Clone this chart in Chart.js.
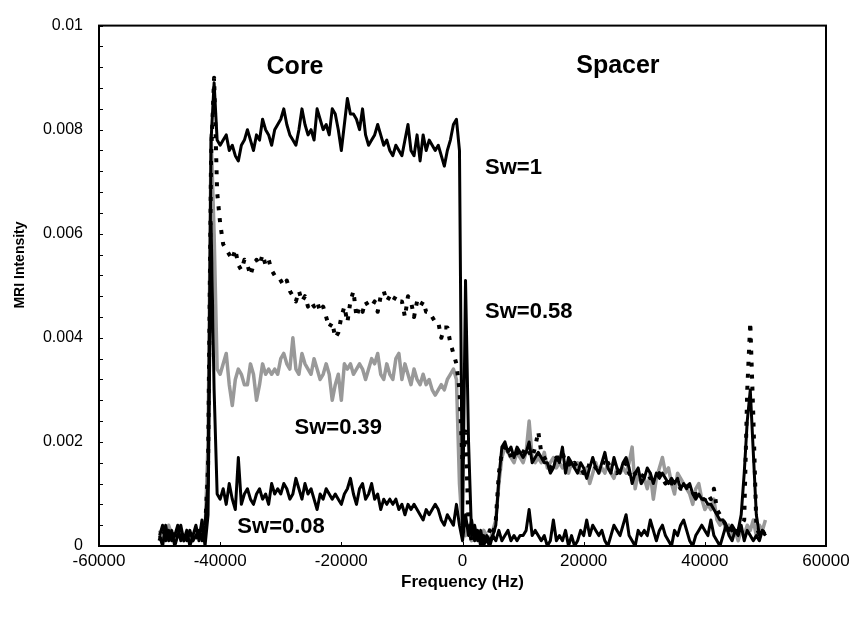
<!DOCTYPE html>
<html>
<head>
<meta charset="utf-8">
<script src="https://cdn.jsdelivr.net/npm/chart.js@4.4.0/dist/chart.umd.min.js"></script>
<style>
  html, body { margin: 0; padding: 0; background: #fff; }
  #wrap { width: 863px; height: 618px; }
</style>
</head>
<body>
<div id="wrap"><canvas id="chart" width="863" height="618"></canvas></div>
<script>
const FONT = '"Liberation Sans", Arial, sans-serif';

// frequency grid of the spectra (Hz)
const freq = [
  -50000, -49500, -49000, -48500, -48000, -47500, -47000, -46500, -46000, -45500, -45000, -44500, -44000, -43500, -43000, -42500, -42000, -41500, -41000, -40500,
  -40000, -39500, -39000, -38500, -38000, -37500, -37000, -36500, -36000, -35500, -35000, -34500, -34000, -33500, -33000, -32500, -32000, -31500, -31000, -30500,
  -30000, -29500, -29000, -28500, -28000, -27500, -27000, -26500, -26000, -25500, -25000, -24500, -24000, -23500, -23000, -22500, -22000, -21500, -21000, -20500,
  -20000, -19500, -19000, -18500, -18000, -17500, -17000, -16500, -16000, -15500, -15000, -14500, -14000, -13500, -13000, -12500, -12000, -11500, -11000, -10500,
  -10000, -9500, -9000, -8500, -8000, -7500, -7000, -6500, -6000, -5500, -5000, -4500, -4000, -3500, -3000, -2500, -2000, -1500, -1000, -500,
  0, 500, 1000, 1500, 2000, 2500, 3000, 3500, 4000, 4500, 5000, 5500, 6000, 6500, 7000, 7500, 8000, 8500, 9000, 9500,
  10000, 10500, 11000, 11500, 12000, 12500, 13000, 13500, 14000, 14500, 15000, 15500, 16000, 16500, 17000, 17500, 18000, 18500, 19000, 19500,
  20000, 20500, 21000, 21500, 22000, 22500, 23000, 23500, 24000, 24500, 25000, 25500, 26000, 26500, 27000, 27500, 28000, 28500, 29000, 29500,
  30000, 30500, 31000, 31500, 32000, 32500, 33000, 33500, 34000, 34500, 35000, 35500, 36000, 36500, 37000, 37500, 38000, 38500, 39000, 39500,
  40000, 40500, 41000, 41500, 42000, 42500, 43000, 43500, 44000, 44500, 45000, 45500, 46000, 46500, 47000, 47500, 48000, 48500, 49000, 49500,
  50000,
];

// Sw=1
const sw100 = [
  0.0002, 0.0004, 0.0001, 0.0003, 0.0001, 0.0002, 0.0004, 0.0001, 0.0002, 0.0001, 0.0003, 0.0001, 0.0002, 0.0003, 0.0001, 0.0004, 0.0012, 0.0078, 0.0089, 0.0078,
  0.0077, 0.0078, 0.0079, 0.0076, 0.0077, 0.0075, 0.0074, 0.0077, 0.0078, 0.0080, 0.0078, 0.0076, 0.0079, 0.0078, 0.0082, 0.0080, 0.0079, 0.0077, 0.0080, 0.0081,
  0.0082, 0.0084, 0.0081, 0.0079, 0.0078, 0.0077, 0.0080, 0.0084, 0.0081, 0.0079, 0.0080, 0.0078, 0.0084, 0.0082, 0.0080, 0.0081, 0.0079, 0.0084, 0.0083, 0.0080,
  0.0076, 0.0081, 0.0086, 0.0083, 0.0083, 0.0082, 0.0080, 0.0084, 0.0079, 0.0077, 0.0078, 0.0079, 0.0081, 0.0079, 0.0077, 0.0078, 0.0076, 0.0075, 0.0077, 0.0076,
  0.0075, 0.0078, 0.0081, 0.0076, 0.0075, 0.0079, 0.0074, 0.0079, 0.0076, 0.0078, 0.0077, 0.0076, 0.0077, 0.0075, 0.0073, 0.0076, 0.0078, 0.0081, 0.0082, 0.0076,
  0.0003, 0.0051, 0.0020, 0.0002, 0.0004, 0.0001, 0.0003, 0.0000, 0.0002, 0.0001, 0.0002, 0.0004, 0.0013, 0.0019, 0.0020, 0.0018, 0.0019, 0.0017, 0.0019, 0.0018,
  0.0017, 0.0018, 0.0020, 0.0016, 0.0017, 0.0018, 0.0017, 0.0016, 0.0016, 0.0014, 0.0015, 0.0017, 0.0016, 0.0019, 0.0014, 0.0017, 0.0016, 0.0015, 0.0014, 0.0016,
  0.0015, 0.0013, 0.0015, 0.0017, 0.0015, 0.0014, 0.0016, 0.0018, 0.0015, 0.0014, 0.0017, 0.0015, 0.0014, 0.0016, 0.0017, 0.0015, 0.0012, 0.0014, 0.0015, 0.0012,
  0.0013, 0.0015, 0.0014, 0.0012, 0.0014, 0.0013, 0.0014, 0.0013, 0.0012, 0.0013, 0.0012, 0.0013, 0.0011, 0.0012, 0.0011, 0.0012, 0.0010, 0.0009, 0.0010, 0.0009,
  0.0009, 0.0008, 0.0008, 0.0007, 0.0006, 0.0005, 0.0005, 0.0004, 0.0003, 0.0004, 0.0003, 0.0003, 0.0006, 0.0014, 0.0024, 0.0030, 0.0018, 0.0006, 0.0002, 0.0003,
  0.0002,
];

// Sw=0.58
const sw058 = [
  0.0001, 0.0003, 0.0002, 0.0001, 0.0003, 0.0001, 0.0002, 0.0003, 0.0001, 0.0002, 0.0001, 0.0003, 0.0002, 0.0001, 0.0002, 0.0003, 0.0015, 0.0075, 0.0090, 0.0068,
  0.0062, 0.0058, 0.0057, 0.0056, 0.0055, 0.0057, 0.0054, 0.0053, 0.0055, 0.0054, 0.0052, 0.0054, 0.0055, 0.0054, 0.0056, 0.0054, 0.0055, 0.0053, 0.0052, 0.0052,
  0.0051, 0.0050, 0.0051, 0.0049, 0.0048, 0.0047, 0.0049, 0.0047, 0.0048, 0.0046, 0.0047, 0.0046, 0.0047, 0.0045, 0.0046, 0.0044, 0.0042, 0.0043, 0.0040, 0.0041,
  0.0044, 0.0046, 0.0043, 0.0047, 0.0049, 0.0044, 0.0046, 0.0045, 0.0047, 0.0046, 0.0046, 0.0047, 0.0045, 0.0048, 0.0049, 0.0047, 0.0048, 0.0047, 0.0048, 0.0047,
  0.0047, 0.0044, 0.0048, 0.0047, 0.0044, 0.0047, 0.0046, 0.0047, 0.0045, 0.0045, 0.0044, 0.0043, 0.0043, 0.0040, 0.0042, 0.0042, 0.0039, 0.0037, 0.0035, 0.0030,
  0.0016, 0.0022, 0.0004, 0.0001, 0.0003, 0.0002, 0.0001, 0.0002, 0.0001, 0.0003, 0.0002, 0.0005, 0.0014, 0.0018, 0.0019, 0.0019, 0.0017, 0.0018, 0.0018, 0.0017,
  0.0018, 0.0019, 0.0018, 0.0017, 0.0019, 0.0022, 0.0018, 0.0017, 0.0016, 0.0015, 0.0016, 0.0017, 0.0017, 0.0018, 0.0016, 0.0016, 0.0015, 0.0016, 0.0015, 0.0015,
  0.0014, 0.0014, 0.0016, 0.0016, 0.0015, 0.0015, 0.0015, 0.0017, 0.0016, 0.0015, 0.0016, 0.0014, 0.0015, 0.0015, 0.0016, 0.0014, 0.0013, 0.0014, 0.0014, 0.0013,
  0.0014, 0.0014, 0.0013, 0.0013, 0.0013, 0.0014, 0.0013, 0.0012, 0.0013, 0.0012, 0.0012, 0.0012, 0.0011, 0.0011, 0.0012, 0.0011, 0.0010, 0.0010, 0.0010, 0.0009,
  0.0009, 0.0010, 0.0009, 0.0011, 0.0007, 0.0006, 0.0005, 0.0004, 0.0004, 0.0003, 0.0004, 0.0003, 0.0004, 0.0005, 0.0030, 0.0043, 0.0025, 0.0004, 0.0002, 0.0003,
  0.0002,
];

// Sw=0.39
const sw039 = [
  0.0003, 0.0001, 0.0002, 0.0004, 0.0002, 0.0001, 0.0003, 0.0002, 0.0001, 0.0003, 0.0002, 0.0001, 0.0003, 0.0002, 0.0004, 0.0002, 0.0020, 0.0079, 0.0060, 0.0034,
  0.0033, 0.0035, 0.0037, 0.0031, 0.0027, 0.0032, 0.0034, 0.0033, 0.0031, 0.0031, 0.0035, 0.0033, 0.0028, 0.0031, 0.0035, 0.0033, 0.0034, 0.0033, 0.0034, 0.0033,
  0.0036, 0.0037, 0.0035, 0.0034, 0.0040, 0.0034, 0.0033, 0.0037, 0.0035, 0.0034, 0.0033, 0.0036, 0.0034, 0.0032, 0.0033, 0.0035, 0.0033, 0.0028, 0.0031, 0.0033,
  0.0028, 0.0035, 0.0034, 0.0035, 0.0033, 0.0034, 0.0035, 0.0034, 0.0032, 0.0034, 0.0036, 0.0035, 0.0037, 0.0033, 0.0032, 0.0035, 0.0033, 0.0032, 0.0036, 0.0037,
  0.0032, 0.0035, 0.0033, 0.0031, 0.0034, 0.0032, 0.0031, 0.0033, 0.0031, 0.0032, 0.0030, 0.0029, 0.0030, 0.0031, 0.0030, 0.0032, 0.0033, 0.0034, 0.0032, 0.0012,
  0.0003, 0.0002, 0.0004, 0.0001, 0.0003, 0.0002, 0.0001, 0.0003, 0.0002, 0.0001, 0.0003, 0.0005, 0.0012, 0.0017, 0.0019, 0.0018, 0.0017, 0.0016, 0.0018, 0.0017,
  0.0016, 0.0018, 0.0024, 0.0017, 0.0016, 0.0017, 0.0016, 0.0018, 0.0015, 0.0016, 0.0017, 0.0015, 0.0016, 0.0015, 0.0016, 0.0014, 0.0016, 0.0015, 0.0016, 0.0014,
  0.0014, 0.0015, 0.0012, 0.0014, 0.0016, 0.0014, 0.0015, 0.0014, 0.0016, 0.0014, 0.0013, 0.0015, 0.0014, 0.0015, 0.0014, 0.0016, 0.0019, 0.0011, 0.0014, 0.0012,
  0.0013, 0.0011, 0.0014, 0.0009, 0.0013, 0.0015, 0.0017, 0.0014, 0.0015, 0.0012, 0.0010, 0.0014, 0.0013, 0.0012, 0.0011, 0.0010, 0.0008, 0.0011, 0.0012, 0.0009,
  0.0007, 0.0008, 0.0007, 0.0009, 0.0005, 0.0004, 0.0005, 0.0003, 0.0004, 0.0002, 0.0003, 0.0001, 0.0003, 0.0002, 0.0004, 0.0003, 0.0005, 0.0002, 0.0004, 0.0003,
  0.0005,
];

// Sw=0.08
const sw008 = [
  0.0002, 0.0000, 0.0004, 0.0001, 0.0003, 0.0000, 0.0002, 0.0004, 0.0001, 0.0003, 0.0000, 0.0002, 0.0004, 0.0001, 0.0005, 0.0000, 0.0006, 0.0062, 0.0030, 0.0010,
  0.0009, 0.0011, 0.0008, 0.0012, 0.0009, 0.0007, 0.0017, 0.0008, 0.0010, 0.0011, 0.0009, 0.0008, 0.0010, 0.0011, 0.0009, 0.0010, 0.0008, 0.0012, 0.0010, 0.0011,
  0.0010, 0.0012, 0.0011, 0.0009, 0.0010, 0.0013, 0.0011, 0.0009, 0.0012, 0.0010, 0.0011, 0.0009, 0.0007, 0.0010, 0.0009, 0.0011, 0.0010, 0.0009, 0.0010, 0.0009,
  0.0008, 0.0010, 0.0011, 0.0013, 0.0010, 0.0008, 0.0011, 0.0012, 0.0009, 0.0010, 0.0012, 0.0009, 0.0010, 0.0007, 0.0009, 0.0008, 0.0009, 0.0008, 0.0009, 0.0007,
  0.0008, 0.0006, 0.0008, 0.0007, 0.0008, 0.0007, 0.0006, 0.0005, 0.0007, 0.0006, 0.0007, 0.0008, 0.0007, 0.0005, 0.0004, 0.0006, 0.0005, 0.0004, 0.0008, 0.0004,
  0.0001, 0.0006, 0.0002, 0.0005, 0.0001, 0.0003, 0.0000, 0.0002, 0.0001, 0.0000, 0.0002, 0.0001, 0.0003, 0.0001, 0.0002, 0.0003, 0.0001, 0.0002, 0.0001, 0.0002,
  0.0002, 0.0003, 0.0007, 0.0002, 0.0003, 0.0002, 0.0001, 0.0002, 0.0000, 0.0001, 0.0005, 0.0001, 0.0002, 0.0001, 0.0003, 0.0000, 0.0002, 0.0000, 0.0001, 0.0003,
  0.0002, 0.0005, 0.0002, 0.0004, 0.0003, 0.0002, 0.0003, 0.0001, 0.0000, 0.0002, 0.0004, 0.0003, 0.0002, 0.0004, 0.0006, 0.0002, 0.0001, 0.0000, 0.0003, 0.0002,
  0.0003, 0.0002, 0.0005, 0.0003, 0.0001, 0.0003, 0.0004, 0.0002, 0.0001, 0.0000, 0.0003, 0.0002, 0.0004, 0.0005, 0.0003, 0.0001, 0.0000, 0.0002, 0.0003, 0.0004,
  0.0003, 0.0002, 0.0005, 0.0002, 0.0001, 0.0000, 0.0002, 0.0004, 0.0002, 0.0001, 0.0003, 0.0002, 0.0004, 0.0001, 0.0003, 0.0002, 0.0001, 0.0002, 0.0001, 0.0003,
  0.0002,
];

const xTicks = [-60000, -40000, -20000, 0, 20000, 40000, 60000];
const yTicks = [0, 0.002, 0.004, 0.006, 0.008, 0.01];
const yMinorStep = 0.0004;

// text written on the plot, placed in data units
const notes = [
  { text: "Core", x: -27640, y: 0.00907, size: 25, align: "center" },
  { text: "Spacer", x: 25650, y: 0.00909, size: 25, align: "center" },
  { text: "Sw=1", x: 3720, y: 0.00714, size: 22, align: "left" },
  { text: "Sw=0.58", x: 3720, y: 0.004375, size: 22, align: "left" },
  { text: "Sw=0.39", x: -27720, y: 0.00216, size: 22, align: "left" },
  { text: "Sw=0.08", x: -37160, y: 0.000246, size: 22, align: "left" },
];

function toPoints(values) {
  return freq.map((f, i) => ({ x: f, y: values[i] }));
}

// box, inside ticks, y title and the text labels
const framePlugin = {
  id: "frame",
  afterDatasetsDraw(chart) {
    const { ctx, scales: { x, y } } = chart;
    ctx.save();
    ctx.fillStyle = "#000";
    ctx.textBaseline = "alphabetic";
    notes.forEach((n) => {
      ctx.font = `bold ${n.size}px ${FONT}`;
      ctx.textAlign = n.align;
      ctx.fillText(n.text, x.getPixelForValue(n.x), y.getPixelForValue(n.y));
    });
    ctx.restore();
  },
  afterDraw(chart) {
    const { ctx, chartArea: a, scales: { x, y } } = chart;
    ctx.save();
    ctx.strokeStyle = "#000";
    ctx.lineWidth = 1;
    ctx.beginPath();
    for (let v = 0; v <= 0.01 + 1e-9; v += yMinorStep) {
      const py = Math.round(y.getPixelForValue(v)) + 0.5;
      ctx.moveTo(a.left, py);
      ctx.lineTo(a.left + 4, py);
    }
    xTicks.forEach((t) => {
      const px = Math.round(x.getPixelForValue(t)) + 0.5;
      ctx.moveTo(px, a.bottom);
      ctx.lineTo(px, a.bottom - 4);
    });
    ctx.stroke();

    ctx.lineWidth = 2;
    ctx.strokeRect(a.left, a.top, a.right - a.left, a.bottom - a.top);

    ctx.font = `bold 14px ${FONT}`;
    ctx.fillStyle = "#000";
    ctx.textAlign = "center";
    ctx.textBaseline = "middle";
    ctx.translate(20, 265);
    ctx.rotate(-Math.PI / 2);
    ctx.fillText("MRI Intensity", 0, 0);
    ctx.restore();
  },
};

new Chart(document.getElementById("chart"), {
  type: "line",
  data: {
    datasets: [
      { label: "Sw=1", data: toPoints(sw100), borderColor: "#000", borderWidth: 3 },
      { label: "Sw=0.08", data: toPoints(sw008), borderColor: "#000", borderWidth: 3 },
      { label: "Sw=0.58", data: toPoints(sw058), borderColor: "#000", borderWidth: 4, borderDash: [4, 8], borderCapStyle: "butt" },
      { label: "Sw=0.39", data: toPoints(sw039), borderColor: "#999999", borderWidth: 3.5 },
    ],
  },
  options: {
    responsive: false,
    animation: false,
    layout: { padding: { left: 0, right: 37, top: 18, bottom: 0 } },
    plugins: { legend: { display: false }, tooltip: { enabled: false } },
    elements: { point: { radius: 0 }, line: { tension: 0, borderJoinStyle: "round" } },
    scales: {
      x: {
        type: "linear",
        min: -60000,
        max: 60000,
        afterBuildTicks: (s) => { s.ticks = xTicks.map((v) => ({ value: v })); },
        afterFit: (s) => { s.height = 72; },
        ticks: { color: "#000", font: { family: FONT, size: 17 }, padding: 5, maxRotation: 0, callback: (v) => String(v) },
        grid: { display: false, drawTicks: false },
        border: { display: false },
        title: { display: true, text: "Frequency (Hz)", color: "#000", font: { family: FONT, size: 17, weight: "bold" }, padding: { top: 0, bottom: 25 } },
      },
      y: {
        type: "linear",
        min: 0,
        max: 0.01,
        afterBuildTicks: (s) => { s.ticks = yTicks.map((v) => ({ value: v })); },
        afterFit: (s) => { s.width = 99; },
        ticks: { color: "#000", font: { family: FONT, size: 16 }, padding: 16, callback: (v) => String(+v.toFixed(4)) },
        grid: { display: false, drawTicks: false },
        border: { display: false },
      },
    },
  },
  plugins: [framePlugin],
});
</script>
</body>
</html>
